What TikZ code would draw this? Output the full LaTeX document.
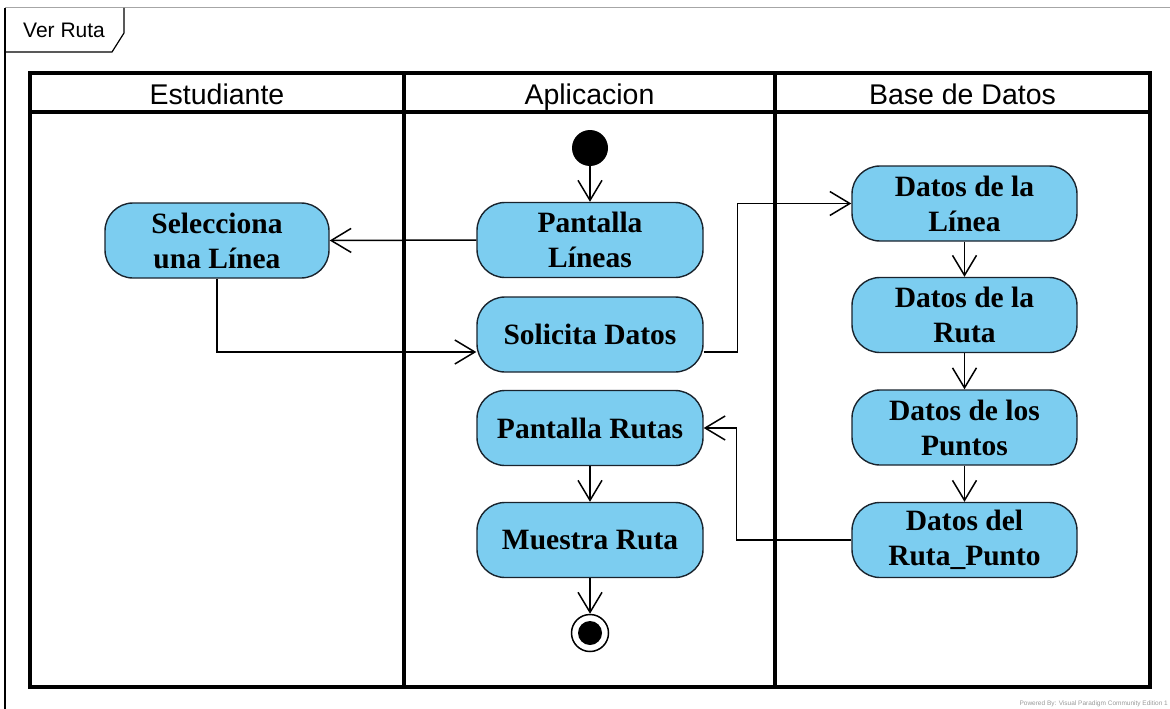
\documentclass[tikz,border=0pt]{standalone}
\usepackage{fontspec}
\setmainfont{Liberation Serif}
\newfontfamily\arialfont{Liberation Sans}
\usetikzlibrary{arrows.meta,calc}
\definecolor{actfill}{RGB}{124,205,240}
\definecolor{actdraw}{RGB}{25,35,45}
\begin{document}
\begin{tikzpicture}[x=1pt,y=-1pt,
  act/.style={draw=actdraw,fill=actfill,line width=1.4pt,rounded corners=28pt,
    minimum width=226pt,minimum height=75pt,align=center,inner sep=0pt,
    font=\fontsize{29.5}{35}\selectfont\bfseries},
  flow/.style={line width=1.5pt,-{Straight Barb[length=20pt,width=24pt,line width=1.5pt]}},
  lane/.style={line width=3.5pt},
  hdr/.style={font=\arialfont\fontsize{28.5}{32}\selectfont,inner sep=0pt,anchor=base}]
\useasboundingbox (0,0) rectangle (1170,709);
% outer frame
\draw[gray!70,line width=1pt] (5,8) -- (1170,8);
\draw[line width=1.2pt] (5,8) -- (5,709);
\draw[line width=1.2pt] (5,52) -- (112,52) -- (124,33) -- (124,8);
\node[font=\arialfont\fontsize{21}{24}\selectfont,anchor=base west,inner sep=0pt] (title) at (23,38) {Ver Ruta};
% swimlanes
\draw[lane] (30,73) rectangle (1150,687);
\draw[lane] (30,112) -- (1150,112);
\draw[lane] (404,73) -- (404,687);
\draw[lane] (775,73) -- (775,687);
\node[hdr] (h1) at (217,104) {Estudiante};
\node[hdr] (h2) at (589.5,104) {Aplicacion};
\node[hdr] (h3) at (962.5,104) {Base de Datos};
% nodes
\node[circle,fill=black,minimum size=36pt,inner sep=0pt] (init) at (590,148) {};
\node[act] (pl) at (590,240) {Pantalla\\L\'ineas};
\node[act,minimum width=224pt] (sel) at (217,240.5) {Selecciona\\una L\'inea};
\node[act] (sol) at (590,334.5) {Solicita Datos};
\node[act] (pr) at (590,428) {Pantalla Rutas};
\node[act] (mr) at (590,540) {Muestra Ruta};
\node[circle,draw=black,line width=1.5pt,fill=white,minimum size=37pt,inner sep=0pt] (fin) at (590,633) {};
\node[circle,fill=black,minimum size=24pt,inner sep=0pt] (finin) at (fin.center) {};
\node[act,minimum width=225pt] (dl) at (964.5,203.5) {Datos de la\\L\'inea};
\node[act,minimum width=225pt] (dr) at (964.5,315) {Datos de la\\Ruta};
\node[act,minimum width=225pt] (dp) at (964.5,427.5) {Datos de los\\Puntos};
\node[act,minimum width=225pt] (drp) at (964.5,540) {Datos del\\Ruta\_Punto};
% connectors
\coordinate (sA) at ([yshift=-17.5pt]sol.west);
\coordinate (sB) at ([yshift=-17.5pt]sol.east);
\draw[flow] (init) -- (pl);
\draw[flow] (pl.west) -- (sel.east);
\draw[flow] (sel.south) |- (sA);
\draw[flow] (sB) -- ++(34,0) |- (dl.west);
\draw[flow] (dl) -- (dr);
\draw[flow] (dr) -- (dp);
\draw[flow] (dp) -- (drp);
\draw[flow] (drp.west) -- ++(-115,0) |- (pr.east);
\draw[flow] (pr) -- (mr);
\draw[flow] (mr.south) -- (fin.north);
% footer
\node[font=\arialfont\fontsize{6.5}{7}\selectfont,text=gray!80,anchor=base east,inner sep=0pt] (pw) at (1168,705) {Powered By: Visual Paradigm Community Edition 1};
\end{tikzpicture}
\end{document}
